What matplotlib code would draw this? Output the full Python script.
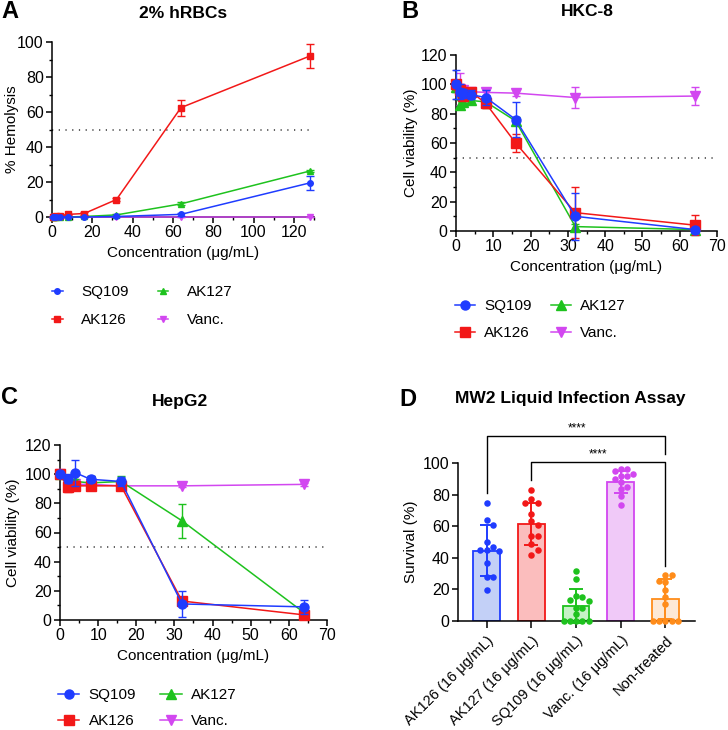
import numpy as np
import matplotlib
matplotlib.use("Agg")
import matplotlib.pyplot as plt
from matplotlib.ticker import MultipleLocator
from matplotlib.lines import Line2D

plt.rcParams['font.family'] = ['Liberation Sans', 'DejaVu Sans']
plt.rcParams['font.size'] = 11

# ---------------- data ----------------
series_names = ['SQ109', 'AK126', 'AK127', 'Vanc.']
colors = {'SQ109': '#1f3cff', 'AK126': '#f21818', 'AK127': '#1ec21e', 'Vanc.': '#d247f0'}
markers = {'SQ109': 'o', 'AK126': 's', 'AK127': '^', 'Vanc.': 'v'}

# A: hemolysis, 2% hRBCs
conc_a = [0.5, 1, 2, 4, 8, 16, 32, 64, 128]
hemo_mean = {
    'SQ109': [0, 0, 0, 0, 0, 0, 0.3, 1.5, 19.5],
    'AK126': [0, 0, 0.3, 0.5, 1.5, 2.0, 10.0, 62.5, 92.0],
    'AK127': [0, 0, 0, 0, 0, 0.3, 1.2, 7.5, 26.3],
    'Vanc.': [0, 0, 0, 0, 0, 0, 0, 0, 0],
}
hemo_err = {
    'SQ109': [0, 0, 0, 0, 0, 0, 0.5, 0.8, 4.0],
    'AK126': [0, 0, 0, 0, 0.5, 0.8, 1.0, 4.5, 7.0],
    'AK127': [0, 0, 0, 0, 0, 0.3, 0.5, 0.8, 0.8],
    'Vanc.': [0, 0, 0, 0, 0, 0, 0, 0, 0],
}

# B: HKC-8 viability
conc_b = [0, 1, 2, 4, 8, 16, 32, 64]
hkc_mean = {
    'SQ109': [100, 95, 94, 93, 91, 76, 10, 1],
    'AK126': [100, 96, 92, 95, 87, 60, 12.5, 4],
    'AK127': [98, 86, 88, 89, 88, 75, 3, 1],
    'Vanc.': [98, 97, 96, 95, 94.5, 94, 91, 92],
}
hkc_err = {
    'SQ109': [10, 5, 3, 3, 5, 12, 16, 1],
    'AK126': [3, 4, 3, 2, 3, 6, 17.5, 7],
    'AK127': [3, 3, 2, 2, 4, 3, 2, 1],
    'Vanc.': [3, 11, 3, 2, 2, 2, 7, 6],
}

# C: HepG2 viability
conc_c = [0, 2, 4, 8, 16, 32, 64]
hep_mean = {
    'SQ109': [100, 97, 101, 96.5, 95, 11, 9],
    'AK126': [100, 91, 92, 92, 92, 13, 3.5],
    'AK127': [100, 96, 95, 94, 95, 68, 5],
    'Vanc.': [100, 93, 93, 93, 92, 92, 93],
}
hep_err = {
    'SQ109': [1, 3, 9, 2, 3, 9, 5],
    'AK126': [2, 3, 3, 2, 2, 2, 1.5],
    'AK127': [1, 3, 2, 5, 4, 11.5, 2],
    'Vanc.': [1, 2, 2, 1, 1, 1, 1],
}

# D: MW2 liquid infection assay
groups = ['AK126 (16 μg/mL)', 'AK127 (16 μg/mL)', 'SQ109 (16 μg/mL)',
          'Vanc. (16 μg/mL)', 'Non-treated']
surv_mean = [44.5, 61.5, 9.5, 88.0, 14.0]
surv_sd = [16.0, 13.5, 10.5, 7.0, 12.5]
surv_points = [
    [75, 64, 61, 50, 47, 45, 45, 44.5, 36.5, 28, 28, 19.5],
    [83, 77, 75, 75, 68, 63, 60.5, 54, 54, 48.5, 45, 42],
    [31.5, 26.5, 16, 15.5, 13, 12.5, 8.5, 8, 4.5, 0, 0, 0, 0, 0],
    [96, 96, 95, 93, 92, 91.5, 90, 88, 84.5, 83.5, 79, 73.5],
    [29, 29, 25.5, 25, 19.5, 15, 11, 0, 0, 0, 0, 0],
]
bar_edge = ['#1f3cff', '#f21818', '#1ec21e', '#d247f0', '#ff8c1a']
bar_fill = ['#c3d0f7', '#fbbdbd', '#c6f2c6', '#f0c9f8', '#fde9d6']

W, H = 728, 730
fig = plt.figure(figsize=(W / 100, H / 100), dpi=100)


def ax_at(x0, y0, x1, y1):
    # pixel box (left, top, right, bottom) -> figure axes
    return fig.add_axes([x0 / W, 1 - y1 / H, (x1 - x0) / W, (y1 - y0) / H])


def style_axes(ax):
    for s in ['top', 'right']:
        ax.spines[s].set_visible(False)
    for s in ['left', 'bottom']:
        ax.spines[s].set_linewidth(1.1)
    ax.tick_params(which='major', direction='out', length=4, width=1.1, labelsize=11.5, pad=2)
    ax.tick_params(which='minor', direction='out', length=2.3, width=1.0)


def line_panel(ax, conc, means, errs, msize, lw):
    order = ['Vanc.', 'AK127', 'AK126', 'SQ109']
    for z, name in enumerate(order):
        c = colors[name]
        ax.errorbar(conc, means[name], yerr=errs[name], color=c, marker=markers[name],
                    markersize=msize, lw=lw, elinewidth=1.0, capsize=3, capthick=1.0,
                    clip_on=False, zorder=3 + z)
    ax.axhline(50, color='#333333', lw=1.1, ls=(0, (0.8, 3.6)), zorder=1, clip_on=False)
    return [Line2D([], [], color=colors[n], marker=markers[n], markersize=msize, lw=lw)
            for n in series_names]


def set_ticks(ax, xmaj, xmin, ymaj, ymin):
    ax.xaxis.set_major_locator(MultipleLocator(xmaj))
    ax.xaxis.set_minor_locator(MultipleLocator(xmin))
    ax.yaxis.set_major_locator(MultipleLocator(ymaj))
    ax.yaxis.set_minor_locator(MultipleLocator(ymin))


def add_legend(ax, handles, x, y, hl, htp, cs, ls):
    ax.legend(handles, series_names, ncol=2, frameon=False, loc='upper left',
              bbox_to_anchor=(x / W, 1 - y / H), bbox_transform=fig.transFigure,
              borderpad=0, borderaxespad=0, handlelength=hl, handletextpad=htp,
              columnspacing=cs, labelspacing=ls, fontsize=11)


# ---------------- A ----------------
axA = ax_at(52, 42, 314, 217)
hA = line_panel(axA, conc_a, hemo_mean, hemo_err, 4, 1.1)
axA.set_xlim(0, 130)
axA.set_ylim(0, 100)
set_ticks(axA, 20, 10, 20, 10)
style_axes(axA)
axA.set_xlabel('Concentration (μg/mL)', labelpad=4)
axA.set_ylabel('% Hemolysis')
axA.yaxis.set_label_coords(-0.126, 0.5)
add_legend(axA, hA, 52, 285, 0.7, 1.2, 1.9, 0.92)

# ---------------- B ----------------
axB = ax_at(456, 55, 717, 231)
hB = line_panel(axB, conc_b, hkc_mean, hkc_err, 6.5, 1.1)
axB.set_xlim(0, 70)
axB.set_ylim(0, 120)
set_ticks(axB, 10, 5, 20, 10)
style_axes(axB)
axB.set_xlabel('Concentration (μg/mL)', labelpad=4)
axB.set_ylabel('Cell viability (%)')
axB.yaxis.set_label_coords(-0.146, 0.5)
add_legend(axB, hB, 455, 299, 1.3, 0.6, 1.3, 0.86)

# ---------------- C ----------------
axC = ax_at(60, 445, 327, 620)
hC = line_panel(axC, conc_c, hep_mean, hep_err, 6.5, 1.1)
axC.set_xlim(0, 70)
axC.set_ylim(0, 120)
set_ticks(axC, 10, 5, 20, 10)
style_axes(axC)
axC.set_xlabel('Concentration (μg/mL)', labelpad=4)
axC.set_ylabel('Cell viability (%)')
axC.yaxis.set_label_coords(-0.148, 0.5)
add_legend(axC, hC, 58, 688, 1.4, 0.6, 1.6, 0.79)

# ---------------- D ----------------
axD = ax_at(458, 463, 695, 621)
xpos = np.arange(len(groups))
axD.bar(xpos, surv_mean, width=0.6, color=bar_fill, edgecolor=bar_edge, linewidth=1.3, zorder=2)


def swarm(vals, dx=0.14, dy=3.6):
    placed = []
    offs = []
    cand = [0]
    for k in range(1, 8):
        cand += [k * dx, -k * dx]
    for v in vals:
        for o in cand:
            if all(abs(pv - v) >= dy or abs(po - o) >= dx * 0.95 for po, pv in placed):
                break
        placed.append((o, v))
        offs.append(o)
    return np.array(offs)


for i, pts in enumerate(surv_points):
    offs = swarm(pts)
    axD.scatter(xpos[i] + offs, pts, s=22, color=bar_edge[i], zorder=4, clip_on=False, linewidths=0)
    axD.errorbar(xpos[i], surv_mean[i], yerr=surv_sd[i], color=bar_edge[i], lw=1.4,
                 capsize=5, capthick=1.4, zorder=3, clip_on=False)

axD.set_xlim(-0.64, 4.66)
axD.set_ylim(0, 100)
axD.yaxis.set_major_locator(MultipleLocator(20))
style_axes(axD)
axD.set_xticks(xpos)
axD.set_xticklabels(groups, rotation=45, ha='right', rotation_mode='anchor', fontsize=10.5)
axD.tick_params(axis='x', length=5, pad=4)
axD.set_ylabel('Survival (%)')
axD.yaxis.set_label_coords(-0.169, 0.5)

# significance brackets
axD.plot([0, 0, 4, 4], [81, 117, 117, 106], color='black', lw=1.0, clip_on=False)
axD.text(2.03, 118, '****', ha='center', va='bottom', fontsize=8.5)
axD.plot([1, 1, 4, 4], [89, 100.6, 100.6, 35], color='black', lw=1.0, clip_on=False)
axD.text(2.5, 101.5, '****', ha='center', va='bottom', fontsize=8.5)

# ---------------- titles / letters ----------------
title_kw = dict(ha='center', va='center', fontsize=12.5, fontweight='bold')
fig.text(183 / W, 1 - 13 / H, '2% hRBCs', **title_kw)
fig.text(587 / W, 1 - 12 / H, 'HKC-8', **title_kw)
fig.text(180 / W, 1 - 402 / H, 'HepG2', **title_kw)
fig.text(570 / W, 1 - 399 / H, 'MW2 Liquid Infection Assay', **title_kw)
letter_kw = dict(ha='left', va='center', fontsize=17, fontweight='bold')
fig.text(1 / W, 1 - 12 / H, 'A', **letter_kw)
fig.text(401 / W, 1 - 12 / H, 'B', **letter_kw)
fig.text(1 / W, 1 - 397 / H, 'C', **letter_kw)
fig.text(399 / W, 1 - 399 / H, 'D', **letter_kw)

fig.savefig('out.png', dpi=100)
